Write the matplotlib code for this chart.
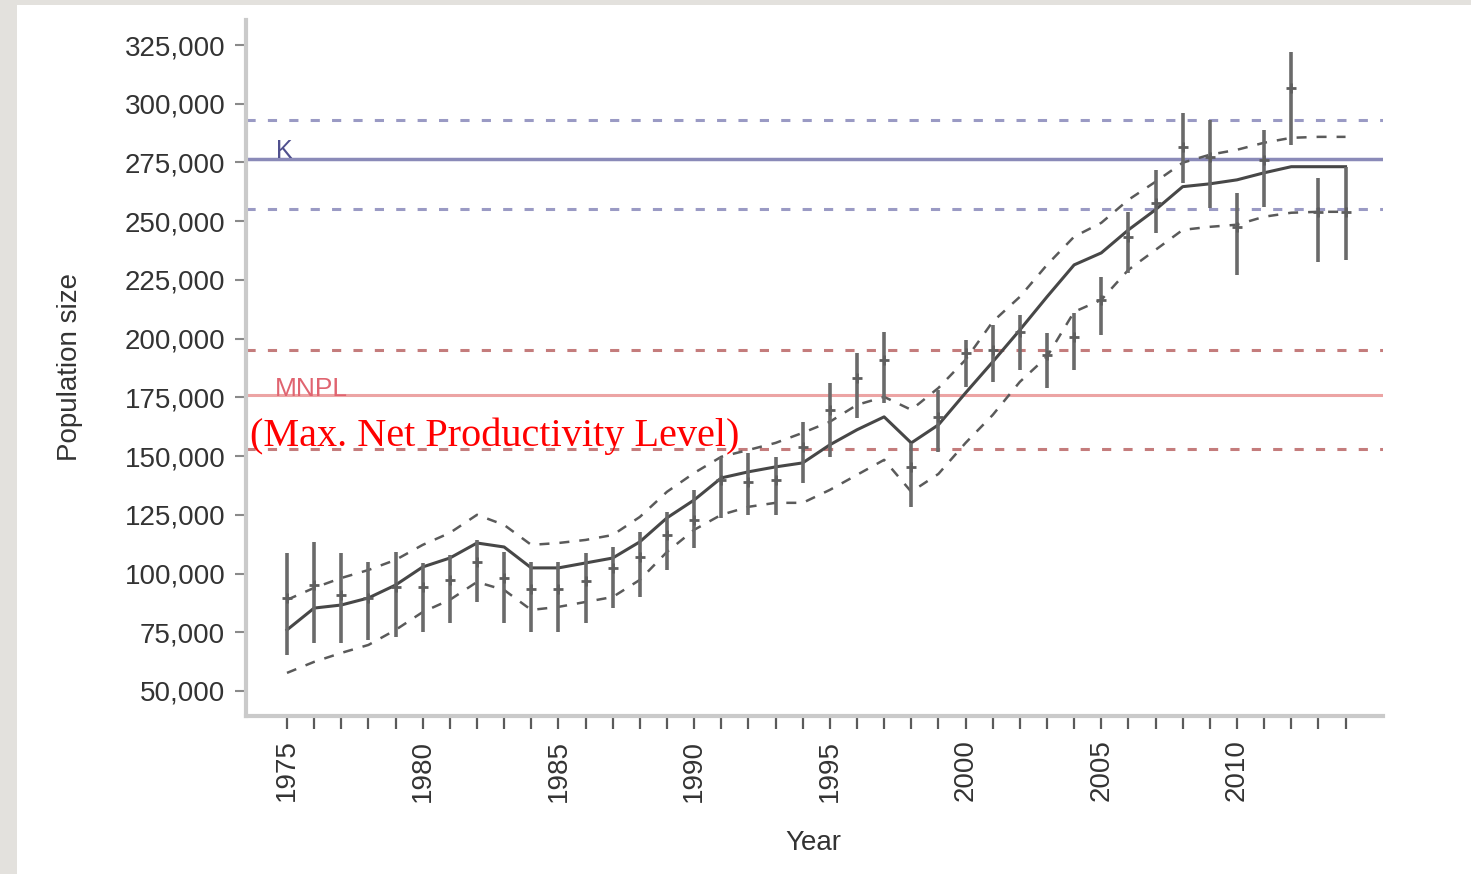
import matplotlib
matplotlib.use("Agg")
import matplotlib.pyplot as plt
from matplotlib.patches import Rectangle
from matplotlib.ticker import FuncFormatter, FixedLocator

# ---------------- data ----------------
years = list(range(1975, 2015))
estimate = [89600, 95100, 90900, 89600, 94300, 94300, 97300, 104900, 98100, 93400,
            93400, 96800, 102400, 107100, 116400, 122800, 139900, 139000, 139900, 153900,
            169700, 183300, 191000, 145400, 166700, 194000, 195200, 202900, 193100, 200800,
            216500, 243400, 257800, 281700, 277400, 247600, 276200, 306800, 254000, 254000]
est_upper = [108800, 113500, 108800, 104900, 109200, 104500, 107900, 114300, 109200, 104900,
             104900, 108800, 111300, 117700, 126200, 135600, 149700, 151400, 149700, 164600,
             181200, 194000, 202900, 155600, 178200, 199500, 205900, 210100, 202500, 211000,
             226300, 254000, 271900, 296200, 293200, 262100, 288900, 322200, 268500, 273200]
est_lower = [65300, 70400, 70400, 71700, 73000, 75100, 79000, 87900, 79000, 75100,
             75100, 79000, 85300, 90000, 101500, 110900, 123700, 125000, 125000, 138600,
             149700, 166300, 172700, 128400, 151800, 179500, 181600, 186700, 179000, 186700,
             201600, 228000, 245100, 266400, 255700, 227200, 256100, 282500, 232700, 233600]
model_fit = [76000, 85300, 86600, 89600, 95100, 102800, 106600, 113000, 111300, 102400,
             102400, 104500, 106600, 113500, 123700, 131300, 140700, 143300, 145400, 147100,
             154800, 161200, 166700, 155600, 163300, 176900, 190100, 203700, 217800, 231400,
             236500, 246300, 254900, 264700, 265900, 267600, 270600, 273200, 273200, 273200]
fit_upper = [88800, 93900, 98100, 101500, 105800, 112200, 117300, 125000, 120700, 112200,
             113000, 114300, 116400, 124100, 134800, 142800, 149700, 152600, 155600, 159900,
             164600, 171800, 175200, 169700, 179000, 191000, 207200, 217800, 231400, 243400,
             249300, 259100, 266800, 274900, 278300, 280400, 283400, 285500, 285900, 285900]
fit_lower = [57700, 62400, 66200, 69600, 76000, 83600, 88800, 96400, 93000, 84500,
             85800, 87900, 90000, 97300, 109200, 118600, 125000, 128400, 130100, 130100,
             135600, 142000, 148400, 134800, 142400, 155600, 167500, 181600, 192300, 211400,
             216500, 229300, 237800, 246300, 247600, 248500, 251900, 253600, 254000, 254000]

K_level = 276500
K_band = [255300, 293000]
MNPL_level = 176000
MNPL_band = [153000, 195200]

y_ticks = list(range(50000, 325001, 25000))
x_label_years = [1975, 1980, 1985, 1990, 1995, 2000, 2005, 2010]

# ---------------- figure ----------------
W, H = 1471, 874
fig = plt.figure(figsize=(W / 100, H / 100), dpi=100, facecolor="#e3e1dd")
fig.patches.append(Rectangle((17 / W, 0), 1, 1 - 5 / H, transform=fig.transFigure,
                             facecolor="white", edgecolor="none", zorder=-1))

ax = fig.add_axes([246 / W, 1 - 716 / H, (1383 - 246) / W, (716 - 20) / H])
ax.set_facecolor("white")

# reference lines
ax.axhline(K_level, color="#8a8ab8", lw=2.5, zorder=1)
for v in K_band:
    ax.axhline(v, color="#9a9ac4", lw=2.2, dashes=(3, 4), zorder=1)
ax.axhline(MNPL_level, color="#eca4a4", lw=2.2, zorder=1)
for v in MNPL_band:
    ax.axhline(v, color="#c47c7c", lw=2.2, dashes=(3, 4), zorder=1)

# model fit with CI
ax.plot(years, model_fit, color="#474747", lw=2.2, zorder=3)
ax.plot(years, fit_upper, color="#5a5a5a", lw=1.8, dashes=(4, 4), zorder=3)
ax.plot(years, fit_lower, color="#5a5a5a", lw=1.8, dashes=(4, 4), zorder=3)

# estimates with error bars
yerr = [[e - lo for e, lo in zip(estimate, est_lower)],
        [hi - e for e, hi in zip(estimate, est_upper)]]
ax.errorbar(years, estimate, yerr=yerr, fmt="+", ms=7, mew=2, color="#5e5e5e",
            ecolor="#6a6a6a", elinewidth=2.6, capsize=0, zorder=4)

# annotations
ax.text(1974.6, K_level + 400, "K", color="#50508e", fontsize=18,
        family="Liberation Sans", ha="left", va="baseline")
ax.text(1974.55, MNPL_level - 300, "MNPL", color="#e06470", fontsize=19,
        family="Liberation Sans", ha="left", va="baseline")
ax.text(1973.64, 158600, "(Max. Net Productivity Level)", color="red", fontsize=29,
        family="Liberation Serif", ha="left", va="center", zorder=5)

# axes limits and ticks
ax.set_xlim(1973.49, 2015.38)
ax.set_ylim(39350, 335650)
ax.yaxis.set_major_locator(FixedLocator(y_ticks))
ax.yaxis.set_major_formatter(FuncFormatter(lambda v, p: f"{int(v):,}"))
ax.set_xticks(years, minor=True)
ax.set_xticks(x_label_years)
ax.set_xticklabels([str(y) for y in x_label_years], rotation=90)

for s in ["top", "right"]:
    ax.spines[s].set_visible(False)
for s in ["left", "bottom"]:
    ax.spines[s].set_color("#cacaca")
    ax.spines[s].set_linewidth(3)

ax.tick_params(axis="y", length=8, width=1.5, color="#8a8a8a", pad=7,
               labelsize=20, labelcolor="#333333")
ax.tick_params(axis="x", which="both", length=9, width=1.6, color="#5a5a5a",
               pad=8, labelsize=20, labelcolor="#333333")
for lab in ax.get_xticklabels() + ax.get_yticklabels():
    lab.set_family("Liberation Sans")

ax.set_ylabel("Population size", fontsize=20, color="#333333", family="Liberation Sans")
ax.yaxis.set_label_coords(-0.143, 0.501)
ax.set_xlabel("Year", fontsize=20, color="#333333", family="Liberation Sans")
ax.xaxis.set_label_coords(0.4987, -0.164)

fig.savefig("out.png", dpi=100, facecolor=fig.get_facecolor())
